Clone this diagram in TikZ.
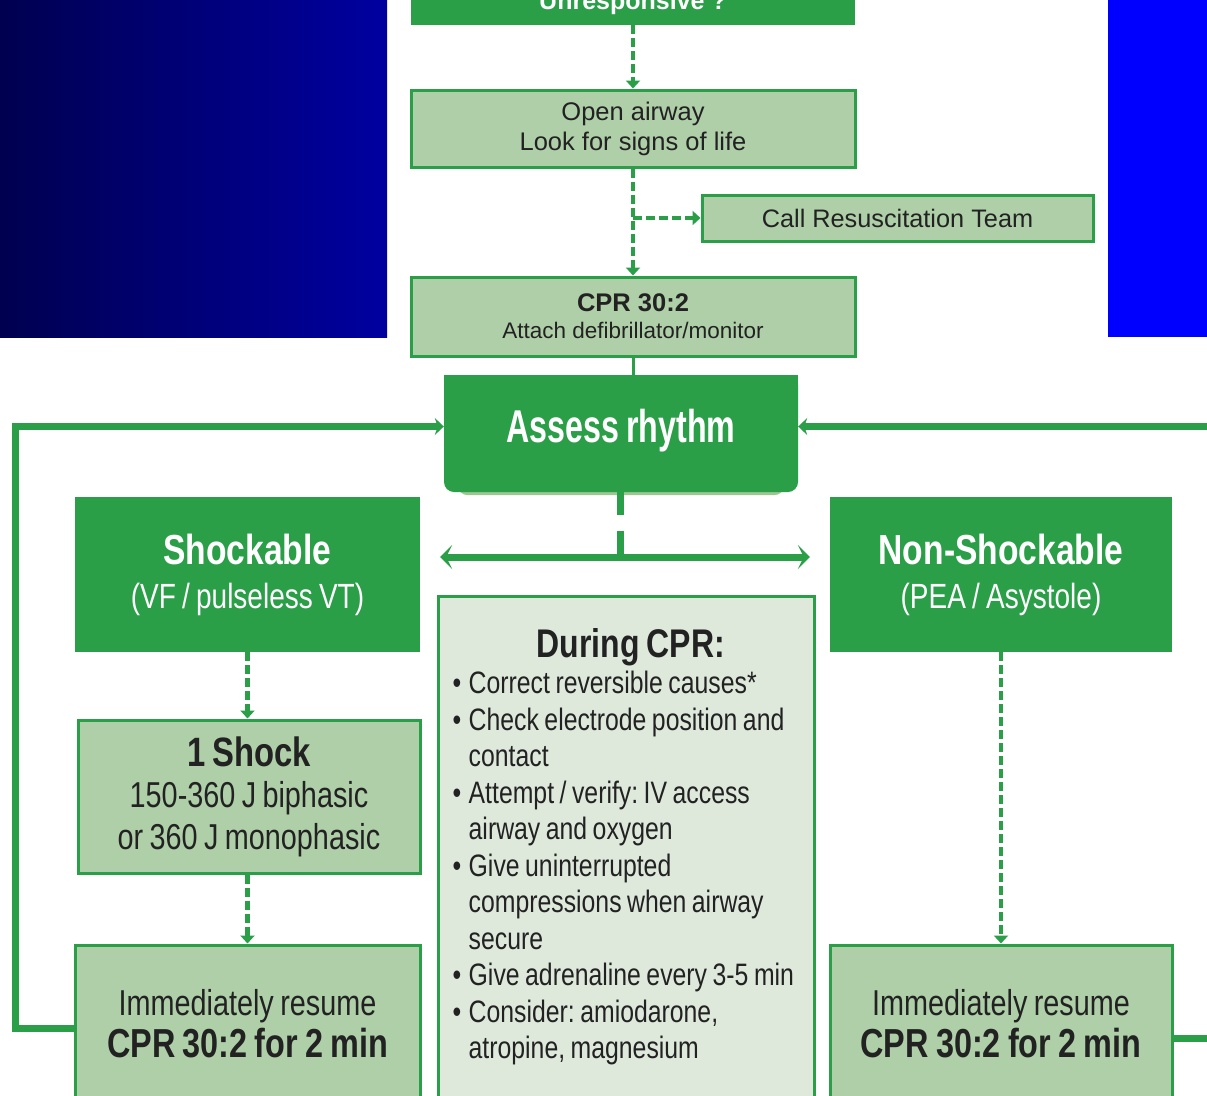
\documentclass[tikz,border=0pt]{standalone}
\usepackage{fontspec}
\setmainfont{Liberation Sans}
\newfontfamily\narrowfont[FakeStretch=0.8,WordSpace=0.8]{Liberation Sans}
\newfontfamily\tightfont[FakeStretch=0.7,WordSpace=0.8]{Liberation Sans}
\usetikzlibrary{arrows.meta,positioning,backgrounds}

\definecolor{algogreen}{RGB}{42,159,72}
\definecolor{leafgreen}{RGB}{175,207,168}
\definecolor{palegreen}{RGB}{222,233,220}
\definecolor{shadegreen}{RGB}{156,199,146}
\definecolor{inkgray}{RGB}{34,34,34}
\definecolor{slateL}{RGB}{0,0,80}
\definecolor{slateR}{RGB}{0,0,160}
\definecolor{slideblue}{RGB}{0,0,255}

\newcommand{\fs}[2]{\fontsize{#1}{#2}\selectfont}
\newcommand{\bul}{\makebox[16pt][l]{\textbullet}}
\newcommand{\cont}{\hspace*{16pt}}
\frenchspacing

\tikzset{
  darkbox/.style={rectangle, fill=algogreen, text=white, inner sep=0pt, align=center},
  lightbox/.style={rectangle, draw=algogreen, line width=3pt, fill=leafgreen, text=inkgray, inner sep=0pt, align=center},
  palebox/.style={rectangle, draw=algogreen, line width=3pt, fill=palegreen, inner sep=0pt},
  flowdash/.style={algogreen, line width=4.5pt, dash pattern=on 9pt off 4pt, -{Triangle[width=14pt,length=8pt]}},
  loopline/.style={algogreen, line width=7pt, line join=miter},
  looptip/.style={-{Stealth[width=17pt,length=9pt]}},
}

\begin{document}
\begin{tikzpicture}[x=1pt,y=-1pt]
\useasboundingbox (0,0) rectangle (1207,1095);

% top column
\node[darkbox, minimum width=444pt, minimum height=43pt, font=\bfseries\fs{25}{30}] (unresp) at (633,3.5) {Unresponsive ?};
\node[lightbox, minimum width=444pt, minimum height=77pt, font=\fs{25.5}{30}] (openair) at (633,128.5) {Open airway\\Look for signs of life};
\node[lightbox, minimum width=391pt, minimum height=46pt, font=\fs{25.3}{30}] (callteam) at (897.5,218) {Call Resuscitation Team};
\node[lightbox, minimum width=444pt, minimum height=79pt, font=\fs{22.5}{27}] (cprbox) at (633,316.5) {\textbf{\fs{25.5}{27}CPR 30:2}\\Attach defibrillator/monitor};
\node[darkbox, rounded corners=10pt, minimum width=354pt, minimum height=117pt, text depth=15pt, font=\tightfont\bfseries\fs{46}{50}] (assess) at (621,433.5) {Assess rhythm};

% rhythm boxes
\node[darkbox, minimum width=345pt, minimum height=155pt, font=\narrowfont\fs{35}{44}] (shock) at (247.5,574.5) {\textbf{\fs{42}{44}Shockable}\\(VF / pulseless VT)};
\node[darkbox, minimum width=342pt, minimum height=155pt, font=\narrowfont\fs{35}{44}] (nonshock) at (1001,574.5) {\textbf{\fs{42}{44}Non-Shockable}\\(PEA / Asystole)};
\node[lightbox, minimum width=342pt, minimum height=153pt, font=\narrowfont\fs{36}{41.5}] (oneshock) at (249,796.5) {\textbf{\fs{41}{41.5}1 Shock}\\150-360 J biphasic\\or 360 J monophasic};
\node[lightbox, minimum width=345pt, minimum height=158pt, font=\narrowfont\fs{36}{42}] (resumeleft) at (247.5,1024) {Immediately resume\\\textbf{\fs{40.5}{42}CPR 30:2 for 2 min}};
\node[lightbox, minimum width=342pt, minimum height=158pt, font=\narrowfont\fs{36}{42}] (resumeright) at (1001,1024) {Immediately resume\\\textbf{\fs{40.5}{42}CPR 30:2 for 2 min}};

% during CPR
\node[palebox, minimum width=376pt, minimum height=520pt, anchor=north] (during) at (626,595) {};
\node[below right=33pt and 16pt of during.north west, text width=356pt, inner sep=0pt, align=left, text=inkgray, font=\narrowfont\fs{31}{36.5}] (duringtext) {%
  \spaceskip=0pt\xspaceskip=0pt\relax
  {\centering\bfseries\fs{40}{36.5}During CPR:\par}
  \bul Correct reversible causes*\\
  \bul Check electrode position and\\
  \cont contact\\
  \bul Attempt / verify: IV access\\
  \cont airway and oxygen\\
  \bul Give uninterrupted\\
  \cont compressions when airway\\
  \cont secure\\
  \bul Give adrenaline every 3-5 min\\
  \bul Consider: amiodarone,\\
  \cont atropine, magnesium};

% connectors
\coordinate (callbranch) at (openair.south |- callteam.west);
\coordinate (split) at (620,557);
\coordinate (loopleft) at (15.5,426.5);
\coordinate (loopleftlow) at (15.5,1028);
\coordinate (loopright) at (1215,426.5);
\coordinate (looprightlow) at (1215,1038);

\draw[flowdash] (unresp) -- (openair);
\draw[flowdash] (openair) -- (cprbox);
\draw[flowdash] (callbranch) -- (callteam.west);
\draw[algogreen, line width=3pt] (cprbox.south) -- (cprbox.south |- assess.north);
\draw[loopline] (assess.south -| split) -- ++(0,23);
\draw[loopline] (split) -- ++(0,-26);
\draw[loopline, {Stealth[width=24pt,length=12pt,inset=6pt]}-{Stealth[width=24pt,length=12pt,inset=6pt]}] ([xshift=20pt]shock.east |- split) -- ([xshift=-20pt]nonshock.west |- split);
\draw[flowdash] (shock) -- (shock |- oneshock.north);
\draw[flowdash] (oneshock.south -| shock) -- (shock |- resumeleft.north);
\draw[flowdash] (nonshock) -- (nonshock |- resumeright.north);
\draw[loopline, looptip] (resumeleft.west |- loopleftlow) -- (loopleftlow) -- (loopleft) -- (assess.west |- loopleft);
\draw[loopline, looptip] (resumeright.east |- looprightlow) -- (looprightlow) -- (loopright) -- (assess.east |- loopright);

% slide background
\begin{scope}[on background layer]
  \fill[white] (0,0) rectangle (1207,1095);
  \shade[left color=slateL, right color=slateR] (0,0) rectangle (387,337);
  \fill[slideblue] (1108,0) rectangle (1207,337);
  \fill[shadegreen, rounded corners=10pt] ([xshift=14pt,yshift=-3pt]assess.north west) rectangle ([xshift=-14pt,yshift=-3pt]assess.south east);
  \fill[algogreen] (assess.north west) rectangle ([yshift=-25pt]assess.north east);
\end{scope}
\end{tikzpicture}
\end{document}
